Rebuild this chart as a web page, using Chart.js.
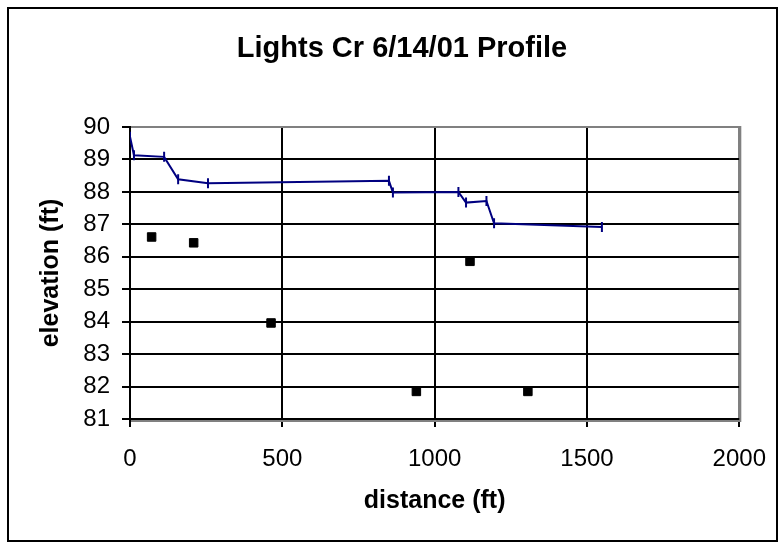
<!DOCTYPE html>
<html>
<head>
<meta charset="utf-8">
<script src="https://cdn.jsdelivr.net/npm/chart.js@4.4.1/dist/chart.umd.min.js"></script>
<style>
  html, body { margin: 0; padding: 0; background: #fff; }
  #wrap { width: 784px; height: 548px; }
</style>
</head>
<body>
<div id="wrap"><canvas id="profile" width="784" height="548"></canvas></div>
<script>
const chartTitle = "Lights Cr 6/14/01 Profile";
const xTitle = "distance (ft)";
const yTitle = "elevation (ft)";

// water surface along the reach (navy line with dash markers)
const surfaceDist = [0, 13, 112, 158, 256, 850, 863, 1078, 1103, 1170, 1195, 1549];
const surfaceElev = [89.7, 89.13, 89.08, 88.39, 88.27, 88.34, 87.98, 88.0, 87.67, 87.72, 87.03, 86.92];

// bed points (black squares)
const bedDist = [71, 209, 463, 940, 1116, 1306];
const bedElev = [86.61, 86.43, 83.96, 81.85, 85.86, 81.85];

const xTicks = [0, 500, 1000, 1500, 2000];
const yTicks = [81, 82, 83, 84, 85, 86, 87, 88, 89, 90];

const FONT = "'Liberation Sans', Arial, sans-serif";

const toPoints = (xs, ys) => xs.map((x, i) => ({ x: x, y: ys[i] }));

const framePlugin = {
  id: "frame",
  beforeDraw(chart) {
    const c = chart.ctx;
    c.save();
    c.fillStyle = "#fff";
    c.fillRect(0, 0, chart.width, chart.height);
    c.strokeStyle = "#000";
    c.lineWidth = 2;
    c.strokeRect(8, 8, 769, 533);
    c.fillStyle = "#000";
    c.font = "bold 29px " + FONT;
    c.textAlign = "center";
    c.textBaseline = "middle";
    c.fillText(chartTitle, 402, 49);
    c.restore();
  },
  beforeDatasetsDraw(chart) {
    // grey plot-area edge (top, right, under the x axis)
    const a = chart.chartArea, c = chart.ctx;
    c.save();
    c.strokeStyle = "#808080";
    c.lineWidth = 2;
    c.beginPath();
    c.moveTo(a.left + 1, a.top);
    c.lineTo(a.right + 1, a.top);
    c.lineTo(a.right + 1, a.bottom + 2);
    c.lineTo(a.left + 1, a.bottom + 2);
    c.stroke();
    c.restore();
  }
};

const gridColor = (ctx) => {
  const v = ctx.tick && ctx.tick.value;
  return (v === yTicks[yTicks.length - 1] && ctx.scale.axis === "y") ||
         (v === xTicks[xTicks.length - 1] && ctx.scale.axis === "x") ? "#808080" : "#000";
};

new Chart(document.getElementById("profile"), {
  type: "scatter",
  data: {
    datasets: [
      {
        label: "water surface",
        data: toPoints(surfaceDist, surfaceElev),
        showLine: true,
        borderColor: "#000080",
        backgroundColor: "#000080",
        borderWidth: 2,
        tension: 0,
        pointStyle: "line",
        rotation: 90,
        pointRadius: 5,
        pointBorderWidth: 2,
        pointBorderColor: "#000080"
      },
      {
        label: "bed",
        data: toPoints(bedDist, bedElev),
        showLine: false,
        pointStyle: "rect",
        pointRadius: 6,
        pointBorderWidth: 1,
        pointBorderColor: "#000",
        pointBackgroundColor: "#000"
      }
    ]
  },
  options: {
    responsive: false,
    animation: false,
    layout: { padding: { left: 0, right: 42, top: 127, bottom: 0 } },
    plugins: {
      legend: { display: false },
      tooltip: { enabled: false },
      title: { display: false }
    },
    scales: {
      x: {
        type: "linear",
        min: xTicks[0],
        max: xTicks[xTicks.length - 1],
        afterFit: (s) => { s.height = 129; },
        ticks: {
          stepSize: xTicks[1] - xTicks[0],
          callback: (v) => String(v),
          color: "#000",
          padding: 18,
          font: { family: FONT, size: 24 }
        },
        grid: { color: gridColor, tickColor: "#000", lineWidth: 2, tickLength: 8 },
        border: { color: "#000", width: 2 },
        title: {
          display: true,
          text: xTitle,
          color: "#000",
          font: { family: FONT, size: 25, weight: "bold" },
          padding: { top: 0, bottom: 32 }
        }
      },
      y: {
        type: "linear",
        min: yTicks[0],
        max: yTicks[yTicks.length - 1],
        afterFit: (s) => { s.width = 130; },
        ticks: {
          stepSize: 1,
          callback: (v) => String(v),
          color: "#000",
          padding: 12,
          font: { family: FONT, size: 24 }
        },
        grid: { color: gridColor, tickColor: "#000", lineWidth: 2, tickLength: 8 },
        border: { color: "#000", width: 2 },
        title: {
          display: true,
          text: yTitle,
          color: "#000",
          font: { family: FONT, size: 25, weight: "bold" },
          padding: { top: 36, bottom: 0 }
        }
      }
    }
  },
  plugins: [framePlugin]
});
</script>
</body>
</html>
